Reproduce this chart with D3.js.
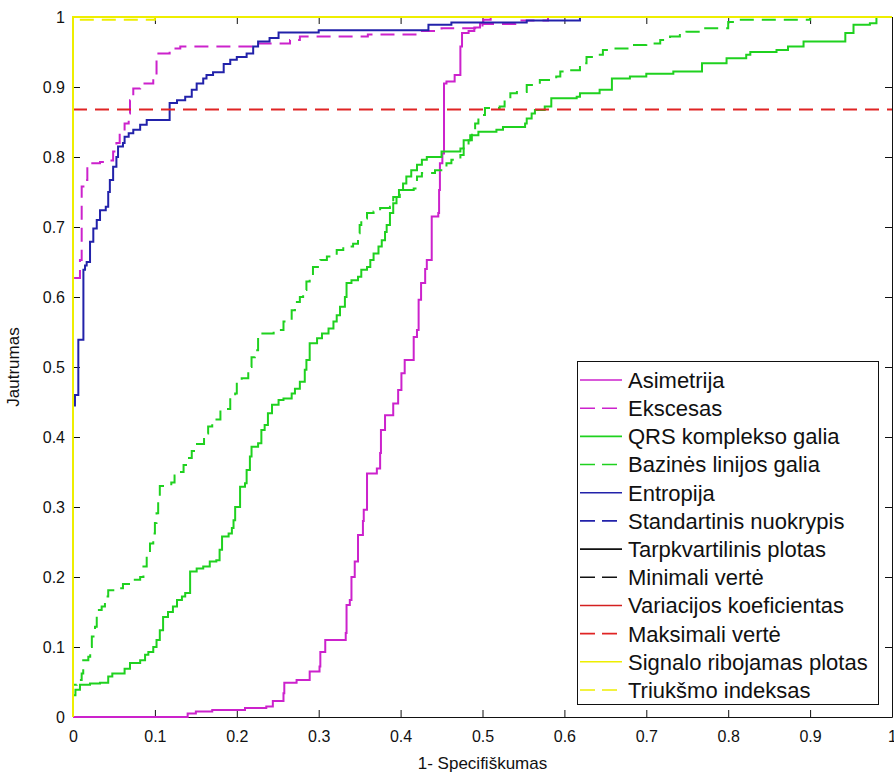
<!DOCTYPE html>
<html>
<head>
<meta charset="utf-8">
<script src="https://cdn.jsdelivr.net/npm/d3@7"></script>
<style>
  html, body { margin: 0; padding: 0; background: #fff; }
  svg { display: block; font-family: "Liberation Sans", Arial, Helvetica, sans-serif; }
</style>
</head>
<body>
<svg id="chart" width="894" height="775"></svg>
<script>
// ROC curves: [1 - specificity, sensitivity] corner points of each staircase
const asimetrija = [[0,0],[0.135,0],[0.14,0.005],[0.15,0.008],[0.17,0.01],[0.2,0.01],[0.21,0.013],[0.236,0.015],[0.244,0.023],[0.257,0.034],[0.258,0.049],[0.273,0.053],[0.289,0.065],[0.301,0.072],[0.302,0.093],[0.308,0.11],[0.333,0.12],[0.334,0.16],[0.338,0.167],[0.34,0.2],[0.344,0.222],[0.348,0.26],[0.354,0.28],[0.355,0.296],[0.359,0.348],[0.371,0.355],[0.375,0.377],[0.376,0.41],[0.381,0.431],[0.391,0.448],[0.397,0.467],[0.401,0.491],[0.405,0.51],[0.413,0.51],[0.416,0.543],[0.42,0.553],[0.422,0.596],[0.425,0.62],[0.43,0.64],[0.432,0.653],[0.438,0.715],[0.446,0.72],[0.447,0.753],[0.448,0.791],[0.451,0.805],[0.453,0.905],[0.456,0.908],[0.466,0.917],[0.473,0.958],[0.475,0.977],[0.483,0.98],[0.49,0.985],[0.497,0.991],[0.501,0.996],[0.51,1],[1,1]];

const ekscesas = [[0,0],[0,0.627],[0.0065,0.627],[0.0085,0.653],[0.0106,0.758],[0.0147,0.767],[0.0175,0.791],[0.033,0.793],[0.045,0.795],[0.049,0.808],[0.053,0.82],[0.057,0.836],[0.063,0.848],[0.068,0.862],[0.0696,0.881],[0.0736,0.898],[0.082,0.905],[0.098,0.912],[0.102,0.948],[0.118,0.955],[0.131,0.958],[0.22,0.962],[0.265,0.967],[0.277,0.972],[0.36,0.975],[0.42,0.98],[0.45,0.984],[0.5,0.99],[0.54,0.995],[0.58,1],[1,1]];

const qrsGalia = [[0,0],[0,0.031],[0.003,0.039],[0.0085,0.046],[0.0208,0.048],[0.033,0.049],[0.043,0.058],[0.048,0.062],[0.063,0.069],[0.0696,0.077],[0.082,0.081],[0.088,0.089],[0.092,0.093],[0.098,0.1],[0.102,0.11],[0.106,0.124],[0.11,0.143],[0.116,0.15],[0.122,0.158],[0.127,0.167],[0.133,0.172],[0.137,0.177],[0.143,0.208],[0.151,0.212],[0.159,0.215],[0.167,0.222],[0.175,0.224],[0.179,0.239],[0.182,0.258],[0.19,0.262],[0.194,0.27],[0.196,0.281],[0.198,0.3],[0.204,0.329],[0.21,0.334],[0.212,0.353],[0.216,0.372],[0.218,0.386],[0.226,0.391],[0.23,0.41],[0.234,0.417],[0.238,0.434],[0.243,0.446],[0.251,0.453],[0.257,0.455],[0.267,0.462],[0.271,0.469],[0.277,0.479],[0.283,0.496],[0.285,0.51],[0.289,0.534],[0.298,0.541],[0.304,0.548],[0.312,0.555],[0.318,0.565],[0.322,0.574],[0.326,0.586],[0.332,0.6],[0.334,0.62],[0.34,0.624],[0.348,0.629],[0.352,0.639],[0.359,0.643],[0.363,0.653],[0.367,0.662],[0.373,0.672],[0.377,0.681],[0.381,0.693],[0.383,0.703],[0.387,0.72],[0.391,0.734],[0.395,0.743],[0.398,0.753],[0.403,0.762],[0.407,0.772],[0.413,0.781],[0.42,0.789],[0.426,0.796],[0.432,0.8],[0.45,0.808],[0.473,0.812],[0.477,0.824],[0.485,0.831],[0.495,0.836],[0.517,0.839],[0.525,0.843],[0.552,0.848],[0.554,0.855],[0.56,0.862],[0.564,0.867],[0.576,0.872],[0.584,0.884],[0.615,0.886],[0.619,0.891],[0.643,0.896],[0.658,0.912],[0.68,0.915],[0.7,0.919],[0.733,0.922],[0.768,0.934],[0.798,0.941],[0.822,0.946],[0.827,0.95],[0.859,0.953],[0.873,0.958],[0.892,0.965],[0.943,0.977],[0.953,0.989],[0.973,0.991],[0.981,1],[1,1]];

const bazinesGalia = [[0,0],[0,0.046],[0.0045,0.053],[0.0106,0.062],[0.0125,0.081],[0.0187,0.086],[0.021,0.1],[0.023,0.115],[0.0269,0.129],[0.029,0.153],[0.035,0.158],[0.039,0.172],[0.043,0.181],[0.055,0.184],[0.061,0.19],[0.0736,0.196],[0.082,0.2],[0.086,0.215],[0.09,0.234],[0.094,0.248],[0.098,0.262],[0.1,0.277],[0.102,0.291],[0.104,0.31],[0.106,0.33],[0.12,0.335],[0.124,0.345],[0.13,0.35],[0.135,0.36],[0.14,0.37],[0.145,0.38],[0.15,0.39],[0.16,0.405],[0.165,0.415],[0.17,0.425],[0.18,0.44],[0.192,0.458],[0.198,0.462],[0.2,0.479],[0.206,0.484],[0.214,0.5],[0.218,0.514],[0.222,0.524],[0.226,0.548],[0.245,0.553],[0.257,0.565],[0.265,0.567],[0.267,0.581],[0.271,0.593],[0.277,0.6],[0.281,0.61],[0.285,0.622],[0.289,0.631],[0.293,0.643],[0.302,0.653],[0.31,0.658],[0.322,0.667],[0.33,0.672],[0.342,0.676],[0.348,0.691],[0.35,0.703],[0.352,0.712],[0.359,0.72],[0.367,0.722],[0.375,0.727],[0.387,0.729],[0.391,0.743],[0.399,0.753],[0.416,0.755],[0.42,0.772],[0.426,0.777],[0.442,0.781],[0.456,0.791],[0.462,0.796],[0.473,0.803],[0.477,0.812],[0.483,0.824],[0.487,0.836],[0.491,0.848],[0.495,0.86],[0.503,0.87],[0.521,0.872],[0.527,0.881],[0.534,0.891],[0.542,0.893],[0.554,0.903],[0.57,0.91],[0.59,0.915],[0.595,0.922],[0.607,0.924],[0.619,0.934],[0.627,0.943],[0.639,0.946],[0.647,0.953],[0.66,0.955],[0.68,0.96],[0.7,0.962],[0.717,0.967],[0.729,0.972],[0.741,0.977],[0.749,0.979],[0.77,0.984],[0.8,0.993],[0.814,0.996],[0.9,1],[1,1]];

const entropija = [[0,0],[0,0.445],[0.0024,0.46],[0.0065,0.539],[0.0127,0.639],[0.0147,0.645],[0.0167,0.65],[0.0208,0.679],[0.0248,0.698],[0.029,0.71],[0.033,0.724],[0.04,0.729],[0.043,0.75],[0.045,0.767],[0.049,0.786],[0.053,0.8],[0.055,0.815],[0.061,0.82],[0.063,0.829],[0.068,0.834],[0.0736,0.839],[0.082,0.846],[0.09,0.853],[0.118,0.877],[0.127,0.881],[0.137,0.886],[0.145,0.896],[0.151,0.905],[0.159,0.912],[0.163,0.917],[0.171,0.921],[0.184,0.933],[0.192,0.939],[0.2,0.943],[0.212,0.948],[0.22,0.958],[0.226,0.965],[0.24,0.97],[0.251,0.978],[0.3,0.981],[0.434,0.989],[0.462,0.992],[0.554,0.995],[0.619,1],[1,1]];

// features that separate the classes perfectly: (0,0) -> (0,1) -> (1,1)
const standartinisNuokrypis = [[0,0],[0,1],[1,1]];
const tarpkvartilinisPlotas = [[0,0],[0,1],[1,1]];
const minimaliVerte = [[0,0],[0,1],[1,1]];
const variacijosKoef = [[0,0],[0,1],[1,1]];
const maksimaliVerte = [[0,0.868],[1,0.868]];
const signaloPlotas = [[0,0],[0,1],[1,1]];
const triuksmoIndeksas = [[0,0],[0,0.996],[0.09,0.996],[0.1,1],[1,1]];

const seriesLabels = ["Asimetrija","Ekscesas","QRS komplekso galia","Bazinės linijos galia","Entropija","Standartinis nuokrypis","Tarpkvartilinis plotas","Minimali vertė","Variacijos koeficientas","Maksimali vertė","Signalo ribojamas plotas","Triukšmo indeksas"];
const seriesData = [asimetrija, ekscesas, qrsGalia, bazinesGalia, entropija, standartinisNuokrypis, tarpkvartilinisPlotas, minimaliVerte, variacijosKoef, maksimaliVerte, signaloPlotas, triuksmoIndeksas];

const tickValues = [0,0.1,0.2,0.3,0.4,0.5,0.6,0.7,0.8,0.9,1];
const tickLabels = ["0","0.1","0.2","0.3","0.4","0.5","0.6","0.7","0.8","0.9","1"];
const xTitle = "1- Specifiškumas";
const yTitle = "Jautrumas";

// line styles, one per series
const styles = [
  {color: "#cc22cc", dash: null},
  {color: "#cc22cc", dash: "14,8"},
  {color: "#1fd11f", dash: null},
  {color: "#1fd11f", dash: "14,8"},
  {color: "#2222aa", dash: null},
  {color: "#2222aa", dash: "14,8"},
  {color: "#111111", dash: null},
  {color: "#111111", dash: "14,8"},
  {color: "#d42020", dash: null},
  {color: "#e02424", dash: "14,8"},
  {color: "#eeee00", dash: null},
  {color: "#eeee00", dash: "14,8"}
];

const svg = d3.select("#chart");
const plotLeft = 73, plotRight = 892, plotTop = 17, plotBottom = 717;

const x = d3.scaleLinear().domain([0, 1]).range([plotLeft, plotRight]);
const y = d3.scaleLinear().domain([0, 1]).range([plotBottom, plotTop]);
const fmt = d => tickLabels[tickValues.indexOf(d)];

// axes box with inward ticks on all sides
const axisG = svg.append("g").attr("class", "axes");
axisG.append("g").attr("transform", `translate(0,${plotBottom})`)
  .call(d3.axisBottom(x).tickValues(tickValues).tickFormat(fmt).tickSizeInner(-7).tickSizeOuter(0).tickPadding(14));
axisG.append("g").attr("transform", `translate(${plotLeft},0)`)
  .call(d3.axisLeft(y).tickValues(tickValues).tickFormat(fmt).tickSizeInner(-7).tickSizeOuter(0).tickPadding(8));
axisG.append("g").attr("transform", `translate(0,${plotTop})`)
  .call(d3.axisTop(x).tickValues(tickValues).tickFormat("").tickSizeInner(-7).tickSizeOuter(0));
axisG.append("g").attr("transform", `translate(${plotRight},0)`)
  .call(d3.axisRight(y).tickValues(tickValues).tickFormat("").tickSizeInner(-7).tickSizeOuter(0));
axisG.selectAll("text").attr("font-size", "16px").attr("fill", "#111").attr("font-family", "\"Liberation Sans\", Arial, sans-serif");
axisG.selectAll("path.domain, line").attr("stroke", "#111");

// ROC staircases
const line = d3.line()
  .x(d => x(d[0]))
  .y(d => y(d[1]))
  .curve(d3.curveStepAfter);

svg.append("g").attr("class", "curves")
  .selectAll("path")
  .data(seriesData)
  .join("path")
  .attr("d", line)
  .attr("fill", "none")
  .attr("stroke", (d, i) => styles[i].color)
  .attr("stroke-width", 2)
  .attr("stroke-dasharray", (d, i) => styles[i].dash)
  .attr("stroke-linejoin", "miter");

// axis titles
svg.append("text")
  .attr("x", (plotLeft + plotRight) / 2).attr("y", 769)
  .attr("text-anchor", "middle").attr("font-size", "17px").attr("fill", "#111")
  .text(xTitle);
svg.append("text")
  .attr("transform", `translate(19,${(plotTop + plotBottom) / 2}) rotate(-90)`)
  .attr("text-anchor", "middle").attr("font-size", "17px").attr("fill", "#111")
  .text(yTitle);

// legend
const lg = svg.append("g").attr("class", "legend");
const lgX = 577, lgY = 361, lgW = 301, lgH = 343, rowStep = 28.18, firstRow = 380;
lg.append("rect").attr("x", lgX + 0.5).attr("y", lgY + 0.5).attr("width", lgW).attr("height", lgH)
  .attr("fill", "#fff").attr("stroke", "#111").attr("stroke-width", 1);
const rows = lg.selectAll("g.row").data(seriesLabels).join("g").attr("class", "row")
  .attr("transform", (d, i) => `translate(0,${firstRow + i * rowStep})`);
rows.append("line")
  .attr("x1", 580).attr("x2", 622).attr("y1", 0).attr("y2", 0)
  .attr("stroke", (d, i) => styles[i].color)
  .attr("stroke-width", 1.6)
  .attr("stroke-dasharray", (d, i) => styles[i].dash ? "15,7" : null);
rows.append("text")
  .attr("x", 628).attr("y", 0).attr("dy", "0.36em")
  .attr("font-size", "22px").attr("fill", "#111")
  .text(d => d);
</script>
</body>
</html>
